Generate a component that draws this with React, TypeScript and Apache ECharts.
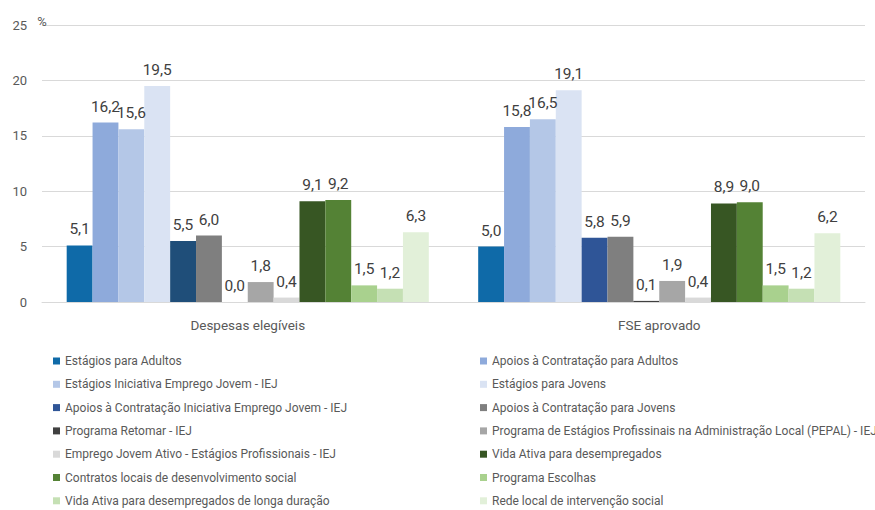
import React, { useEffect, useRef } from "react";
import * as echarts from "echarts";

const categories = ["Despesas elegíveis", "FSE aprovado"];

const seriesNames = [
  "Estágios para Adultos",
  "Apoios à Contratação para Adultos",
  "Estágios Iniciativa Emprego Jovem - IEJ",
  "Estágios para Jovens",
  "Apoios à Contratação Iniciativa Emprego Jovem - IEJ",
  "Apoios à Contratação para Jovens",
  "Programa Retomar - IEJ",
  "Programa de Estágios Profissinais na Administração Local (PEPAL) - IEJ",
  "Emprego Jovem Ativo - Estágios Profissionais - IEJ",
  "Vida Ativa para desempregados",
  "Contratos locais de desenvolvimento social",
  "Programa Escolhas",
  "Vida Ativa para desempregados de longa duração",
  "Rede local de intervenção social",
];

// values per series: [Despesas elegíveis, FSE aprovado]
const seriesValues = [
  [5.1, 5.0],
  [16.2, 15.8],
  [15.6, 16.5],
  [19.5, 19.1],
  [5.5, 5.8],
  [6.0, 5.9],
  [0.0, 0.1],
  [1.8, 1.9],
  [0.4, 0.4],
  [9.1, 8.9],
  [9.2, 9.0],
  [1.5, 1.5],
  [1.2, 1.2],
  [6.3, 6.2],
];

const seriesColors = [
  "#0f6aa8",
  "#8eaadb",
  "#b4c7e7",
  "#dae3f3",
  "#2f5597",
  "#7f7f7f",
  "#404040",
  "#a6a6a6",
  "#d9d9d9",
  "#375623",
  "#548235",
  "#a9d18e",
  "#c5e0b4",
  "#e2f0d9",
];

// special per-point colour (first group's bar of series 5 is darker)
const pointColorOverrides: Record<string, string> = { "4-0": "#1f4e79" };

const yTicks = [0, 5, 10, 15, 20, 25];

const FONT = "Roboto, 'Noto Sans', sans-serif";

export default function App() {
  const ref = useRef<HTMLDivElement>(null);
  useEffect(() => {
    if (!ref.current) return;
    const chart = echarts.init(ref.current, null, { renderer: "svg" });
    const series = seriesNames.map((name, i) => ({
      name,
      type: "bar",
      barGap: "0%",
      barCategoryGap: "12%",
      itemStyle: { color: seriesColors[i] },
      label: {
        show: true,
        position: "top",
        distance: 8,
        color: "#404040",
        fontSize: 15.5,
        fontFamily: FONT,
        formatter: (p: any) => Number(p.value).toFixed(1).replace(".", ","),
      },
      data: seriesValues[i].map((v, j) => {
        const c = pointColorOverrides[`${i}-${j}`];
        return c ? { value: v, itemStyle: { color: c } } : v;
      }),
    }));
    const leftNames = seriesNames.filter((_, i) => i % 2 === 0);
    const rightNames = seriesNames.filter((_, i) => i % 2 === 1);
    const legendBase = {
      orient: "vertical",
      top: 349,
      height: 200,
      itemWidth: 7,
      itemHeight: 7,
      itemGap: 9.3,
      icon: "rect",
      textStyle: {
        color: "#595959",
        fontSize: 12,
        fontFamily: FONT,
        lineHeight: 14,
      },
    };
    chart.setOption({
      animation: false,
      backgroundColor: "#ffffff",
      textStyle: { fontFamily: FONT },
      grid: { left: 42, right: 10, top: 25, bottom: 248, containLabel: false },
      legend: [
        { ...legendBase, left: 48, data: leftNames },
        { ...legendBase, left: 475, data: rightNames },
      ],
      xAxis: {
        type: "category",
        data: categories,
        axisTick: { show: false },
        axisLine: { lineStyle: { color: "#d9d9d9", width: 1 } },
        axisLabel: { color: "#595959", fontSize: 13.5, margin: 16, fontFamily: FONT },
      },
      yAxis: {
        type: "value",
        min: yTicks[0],
        max: yTicks[yTicks.length - 1],
        interval: 5,
        name: "%",
        nameLocation: "end",
        nameGap: 4,
        nameTextStyle: { color: "#595959", fontSize: 13, align: "center", verticalAlign: "middle", fontFamily: FONT },
        axisLine: { show: false },
        axisTick: { show: false },
        axisLabel: { color: "#595959", fontSize: 13, margin: 15, fontFamily: FONT },
        splitLine: { lineStyle: { color: "#d9d9d9", width: 1 } },
      },
      series,
    });
    return () => chart.dispose();
  }, []);
  return (
    <div
      ref={ref}
      style={{ position: "fixed", left: 0, top: 0, width: 875, height: 550, background: "#fff" }}
    />
  );
}
